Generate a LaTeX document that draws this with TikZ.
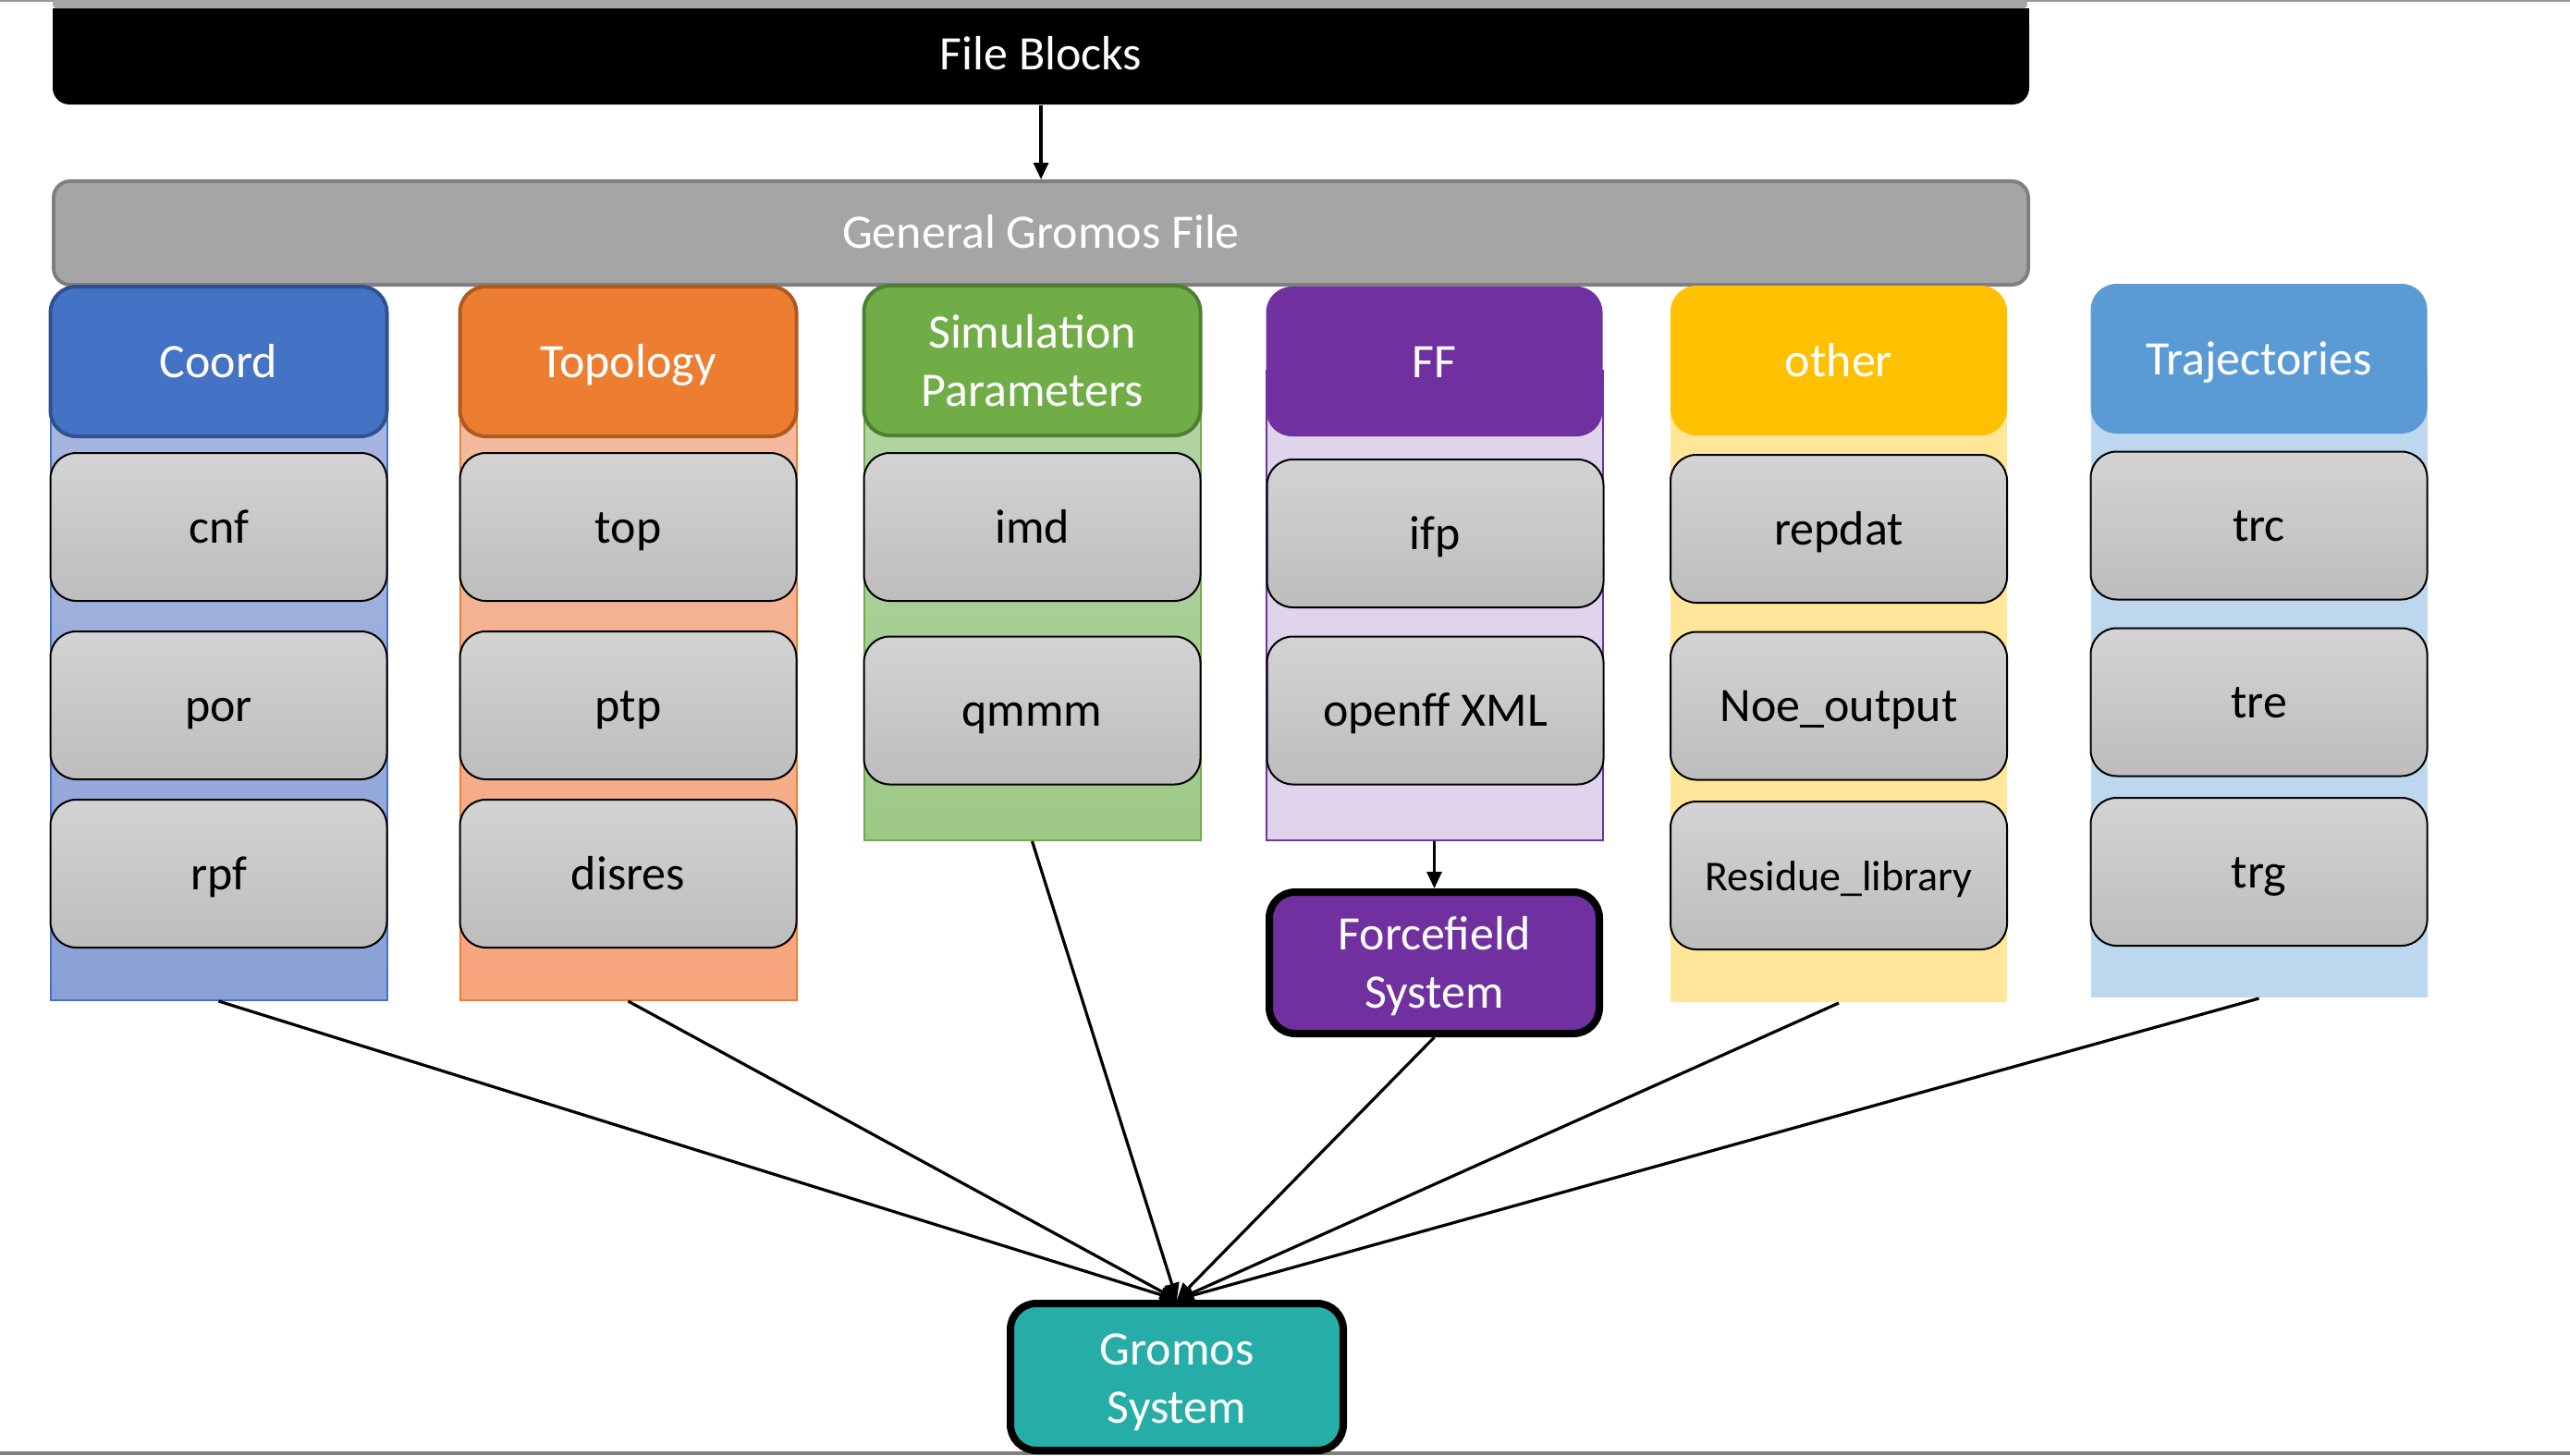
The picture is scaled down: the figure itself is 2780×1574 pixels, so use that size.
\documentclass[tikz,border=0pt]{standalone}
\usepackage{fontspec}
\setmainfont{Carlito}
\usetikzlibrary{arrows.meta}
\definecolor{coordc}{HTML}{4472C4}
\definecolor{coordd}{HTML}{2F528F}
\definecolor{coordt}{HTML}{A9B8E0}
\definecolor{coordb}{HTML}{8AA1D7}
\definecolor{topoc}{HTML}{ED7D31}
\definecolor{topod}{HTML}{AE5A21}
\definecolor{topot}{HTML}{F4BBA1}
\definecolor{topob}{HTML}{F7A57D}
\definecolor{simc}{HTML}{70AD47}
\definecolor{simd}{HTML}{507E32}
\definecolor{simt}{HTML}{B3D5A3}
\definecolor{simb}{HTML}{9DC986}
\definecolor{ffc}{HTML}{7030A0}
\definecolor{ffbg}{HTML}{E0D3EC}
\definecolor{othc}{HTML}{FFC000}
\definecolor{othbg}{HTML}{FFE699}
\definecolor{trjc}{HTML}{5B9BD5}
\definecolor{trjbg}{HTML}{BDD7EE}
\definecolor{itemtop}{HTML}{D3D3D3}
\definecolor{itembot}{HTML}{BDBDBD}
\definecolor{barfill}{HTML}{A5A5A5}
\definecolor{bardraw}{HTML}{7F7F7F}
\definecolor{teal}{HTML}{26ADA8}
\newcommand{\twolines}[3]{\raisebox{0pt}[\dimexpr\height+#1\relax][\depth]{\begin{tabular}{@{}c@{}}#2\\#3\end{tabular}}}
\begin{document}
\begin{tikzpicture}[x=0.25pt,y=-0.25pt,
  txt/.style={font=\fontsize{13}{15.6}\selectfont},
  one/.style={text height=11pt, text depth=2.4pt},
  hdr/.style={txt, rounded corners=7pt, minimum width=91pt, minimum height=40.5pt, text=white, align=center, inner sep=0pt},
  item/.style={txt, one, rounded corners=7pt, draw=black, line width=0.5pt, top color=itemtop, bottom color=itembot, minimum width=91pt, minimum height=40pt, inner sep=0pt},
  colbg/.style={anchor=north, minimum width=91pt, inner sep=0pt, line width=0.5pt},
  conn/.style={line width=0.8pt, -{Triangle[length=4.5pt,width=4pt]}},
  sysbox/.style={txt, rounded corners=7pt, draw=black, line width=2pt, text=white, inner sep=0pt}]
\useasboundingbox (0,0) rectangle (2780,1574);
% page edges
\fill[bardraw!80] (0,0) rectangle (2780,2);
\fill[bardraw] (0,1570) rectangle (2780,1574);
% top boxes
\node[txt, text height=10pt, text depth=3pt, fill=black, text=white, rounded corners=4.5pt, minimum width=534.5pt, minimum height=26pt, inner sep=0pt] (blocks) at (1126,61) {File Blocks};
\fill[black] (57,9) rectangle (2195,32);
\fill[barfill, rounded corners=1pt] (57,0) rectangle (2193,9);
\node[txt, text height=11pt, text depth=3pt, fill=barfill, draw=bardraw, line width=1pt, text=white, rounded corners=4.5pt, minimum width=534pt, minimum height=28pt, inner sep=0pt] (general) at (1126,252) {General Gromos File};
\draw[conn] (blocks.south) -- (general.north);
% column backgrounds
\node[colbg, top color=coordt, bottom color=coordb, draw=coordc, minimum height=170.25pt] (coordbg) at (236.5,400) {};
\node[colbg, top color=topot, bottom color=topob, draw=topoc, minimum height=170.25pt] (topobg) at (679.5,400) {};
\node[colbg, top color=simt, bottom color=simb, draw=simc, minimum height=127pt] (simbg) at (1116.5,400) {};
\node[colbg, fill=ffbg, draw=ffc, minimum height=127pt] (ffbg) at (1551.5,400) {};
\node[colbg, fill=othbg, minimum height=170.75pt] (othbg) at (1989,400) {};
\node[colbg, fill=trjbg, minimum height=169.5pt] (trjbg) at (2443.5,400) {};
% headers
\node[hdr, one, fill=coordc, draw=coordd, line width=1pt] (coord) at (236.5,391) {Coord};
\node[hdr, one, fill=topoc, draw=topod, line width=1pt] (topo) at (679.5,391) {Topology};
\node[hdr, fill=simc, draw=simd, line width=1pt] (sim) at (1116.5,390) {Simulation\\Parameters};
\node[hdr, one, fill=ffc] (ff) at (1551.5,391) {FF};
\node[hdr, one, fill=othc] (oth) at (1989,390) {other};
\node[hdr, one, fill=trjc] (trj) at (2443.5,388) {Trajectories};
% items
\node[item] (cnf) at (236.5,570) {cnf};
\node[item] (por) at (236.5,763) {por};
\node[item] (rpf) at (236.5,945) {rpf};
\node[item] (top) at (679.5,570) {top};
\node[item] (ptp) at (679.5,763) {ptp};
\node[item] (disres) at (679.5,945) {disres};
\node[item] (imd) at (1116.5,570) {imd};
\node[item] (qmmm) at (1116.5,768.5) {qmmm};
\node[item] (ifp) at (1552.5,577) {ifp};
\node[item] (openff) at (1552.5,768.5) {openff XML};
\node[item] (repdat) at (1989,572) {repdat};
\node[item] (noe) at (1989,763.5) {Noe\_output};
\node[item, font=\fontsize{11.5}{14}\selectfont, text height=10pt, text depth=2pt] (resid) at (1989,947) {Residue\_library};
\node[item] (trc) at (2443.5,568.5) {trc};
\node[item] (tre) at (2443.5,759.5) {tre};
\node[item] (trg) at (2443.5,943) {trg};
% systems
\node[sysbox, fill=ffc, minimum width=89.25pt, minimum height=38.25pt] (ffsys) at (1551.5,1041.5) {\twolines{2.5pt}{Forcefield}{System}};
\node[sysbox, fill=teal, minimum width=90pt, minimum height=39.75pt] (gromos) at (1273,1489.5) {\twolines{3pt}{Gromos}{System}};
% connectors
\draw[conn] (ffbg.south) -- (ffsys.north);
\draw[conn] (coordbg.south) -- (gromos.north);
\draw[conn] (topobg.south) -- (gromos.north);
\draw[conn] (simbg.south) -- (gromos.north);
\draw[conn] (ffsys.south) -- (gromos.north);
\draw[conn] (othbg.south) -- (gromos.north);
\draw[conn] (trjbg.south) -- (gromos.north);
\end{tikzpicture}
\end{document}
